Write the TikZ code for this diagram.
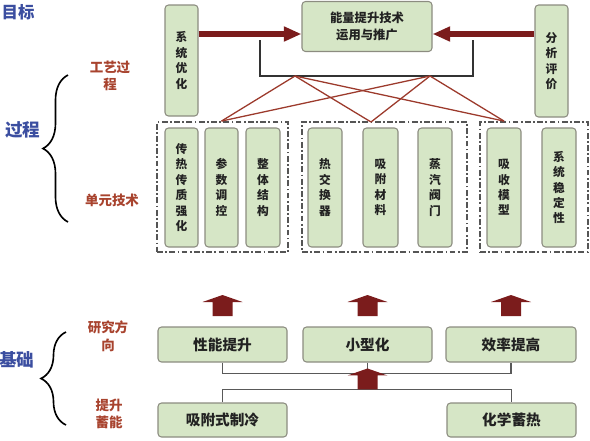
\documentclass[tikz,border=0pt]{standalone}
\usepackage{fontspec}
\newfontfamily\cjk{Noto Sans CJK SC}
\usetikzlibrary{arrows.meta,decorations.pathreplacing}
\definecolor{boxGreen}{HTML}{D6E6C6}
\definecolor{boxLine}{HTML}{8C8C80}
\definecolor{grpGray}{HTML}{555555}
\definecolor{arrowRed}{HTML}{7B1C1C}
\definecolor{crossRed}{HTML}{9C3A2C}
\definecolor{lblRed}{HTML}{A8432E}
\definecolor{lblBlue}{HTML}{3B4EA0}
\definecolor{txtDark}{HTML}{222222}

\begin{document}
\begin{tikzpicture}[x=0.03cm,y=-0.03cm,
  techbox/.style 2 args={draw=boxLine,fill=boxGreen,line width=0.9pt,rounded corners=3pt,
    minimum width=#1*0.03cm,minimum height=#2*0.03cm,inner sep=1pt,align=center,
    text=txtDark,font=\cjk\bfseries\fontsize{10}{13.2}\selectfont},
  unitgroup/.style 2 args={draw=grpGray,line width=1.6pt,
    dash pattern=on 5pt off 2pt on 1.5pt off 2pt,
    minimum width=#1*0.03cm,minimum height=#2*0.03cm,inner sep=0pt},
  bigfont/.style={font=\cjk\bfseries\fontsize{12.5}{14}\selectfont},
  redlabel/.style={text=lblRed,align=center,font=\cjk\bfseries\fontsize{11.5}{15}\selectfont},
  bluelabel/.style={text=lblBlue,font=\cjk\bfseries\fontsize{14}{16}\selectfont},
  bigarrow/.style={draw=arrowRed,line width=5.5pt,-{Triangle[length=15pt,width=12pt]}},
  crossline/.style={draw=crossRed,line width=1.1pt},
  bracketline/.style={draw=black!80,line width=1.4pt},
  linkline/.style={draw=black!65,line width=1.2pt},
  bracestyle/.style={draw=black,line width=1.4pt,decorate,
    decoration={brace,amplitude=0.75cm,aspect=0.5}},
  uparrow/.pic={\fill[arrowRed] (-10,0) -- (-10,-14) -- (-20,-14) -- (0,-21)
    -- (20,-14) -- (10,-14) -- (10,0) -- cycle;}]
  \useasboundingbox (0,0) rectangle (590,440);

  % goal row
  \node[techbox={33}{111}] (sysopt) at (181.5,60.5) {系\\统\\优\\化};
  \node[techbox={130}{50},font=\cjk\bfseries\fontsize{10.5}{14}\selectfont] (target) at (367,26.5)
    {能量提升技术\\运用与推广};
  \node[techbox={33}{112}] (evaluate) at (551.5,61) {分\\析\\评\\价};
  \draw[bigarrow] (sysopt.east |- 0,34) -- (target.west |- 0,34);
  \draw[bigarrow] (evaluate.west |- 0,34) -- (target.east |- 0,34);

  % bracket under the goal
  \coordinate (brkL) at (260,40);
  \coordinate (brkR) at (473,40);
  \draw[bracketline] (brkL) |- (brkR |- 0,76) -- (brkR);

  % unit technology groups
  \node[unitgroup={131}{130}] (grpA) at (222.5,187) {};
  \node[unitgroup={165}{130}] (grpB) at (384.5,187) {};
  \node[unitgroup={108}{130}] (grpC) at (534,187) {};

  \node[techbox={33}{119}] (u11) at (181.5,187.5) {传\\热\\传\\质\\强\\化};
  \node[techbox={33}{119}] (u12) at (221.5,187.5) {参\\数\\调\\控};
  \node[techbox={34}{119}] (u13) at (263,187.5) {整\\体\\结\\构};
  \node[techbox={34}{119}] (u21) at (325,187.5) {热\\交\\换\\器};
  \node[techbox={35}{119}] (u22) at (380.5,187.5) {吸\\附\\材\\料};
  \node[techbox={34}{119}] (u23) at (435,187.5) {蒸\\汽\\阀\\门};
  \node[techbox={34}{119}] (u31) at (504,187.5) {吸\\收\\模\\型};
  \node[techbox={34}{119}] (u32) at (559,187.5) {系\\统\\稳\\定\\性};

  % crossing links
  \coordinate (hubA) at (295,76);
  \coordinate (hubB) at (430,76);
  \coordinate (tipA) at (u12.north |- grpA.north);
  \coordinate (tipB) at (371,122);
  \coordinate (tipC) at (u31.north |- grpC.north);
  \foreach \h in {hubA,hubB}
    \foreach \t in {tipA,tipB,tipC}
      \draw[crossline] (\h) -- (\t);

  % basis row
  \node[techbox={129}{35},bigfont] (perf) at (222.5,344.5) {性能提升};
  \node[techbox={129}{35},bigfont] (mini) at (367.5,344.5) {小型化};
  \node[techbox={130}{35},bigfont] (eff) at (511,344.5) {效率提高};
  \node[techbox={129}{34},bigfont] (ads) at (222.5,420) {吸附式制冷};
  \node[techbox={129}{34},bigfont] (chem) at (511.5,420) {化学蓄热};

  \draw[linkline] (perf.south) -- ++(0,11) coordinate (busU) -| (eff.south);
  \draw[linkline] (mini.south) -- (mini.south |- busU);
  \draw[linkline] (ads.north) -- ++(0,-13) coordinate (busL) -| (chem.north);

  \pic at (perf.north |- 0,316) {uparrow};
  \pic at (mini.north |- 0,316) {uparrow};
  \pic at (eff.north |- 0,316) {uparrow};
  \pic at (mini.south |- busL) {uparrow};

  % side labels
  \node[bluelabel] (goalLbl) at (18,12) {目标};
  \node[redlabel] (craftLbl) at (110,76) {工艺过\\程};
  \node[bluelabel,font=\cjk\bfseries\fontsize{15}{17}\selectfont] (procLbl) at (23,130) {过程};
  \node[redlabel] (unitLbl) at (112,200) {单元技术};
  \draw[bracestyle] (68,222) -- (68,75);
  \node[redlabel] (dirLbl) at (108,336) {研究方\\向};
  \node[bluelabel,font=\cjk\bfseries\fontsize{15}{17}\selectfont] (baseLbl) at (17,360) {基础};
  \node[redlabel] (storeLbl) at (109,414) {提升\\蓄能};
  \draw[bracestyle] (66,425) -- (66,332);
\end{tikzpicture}
\end{document}
